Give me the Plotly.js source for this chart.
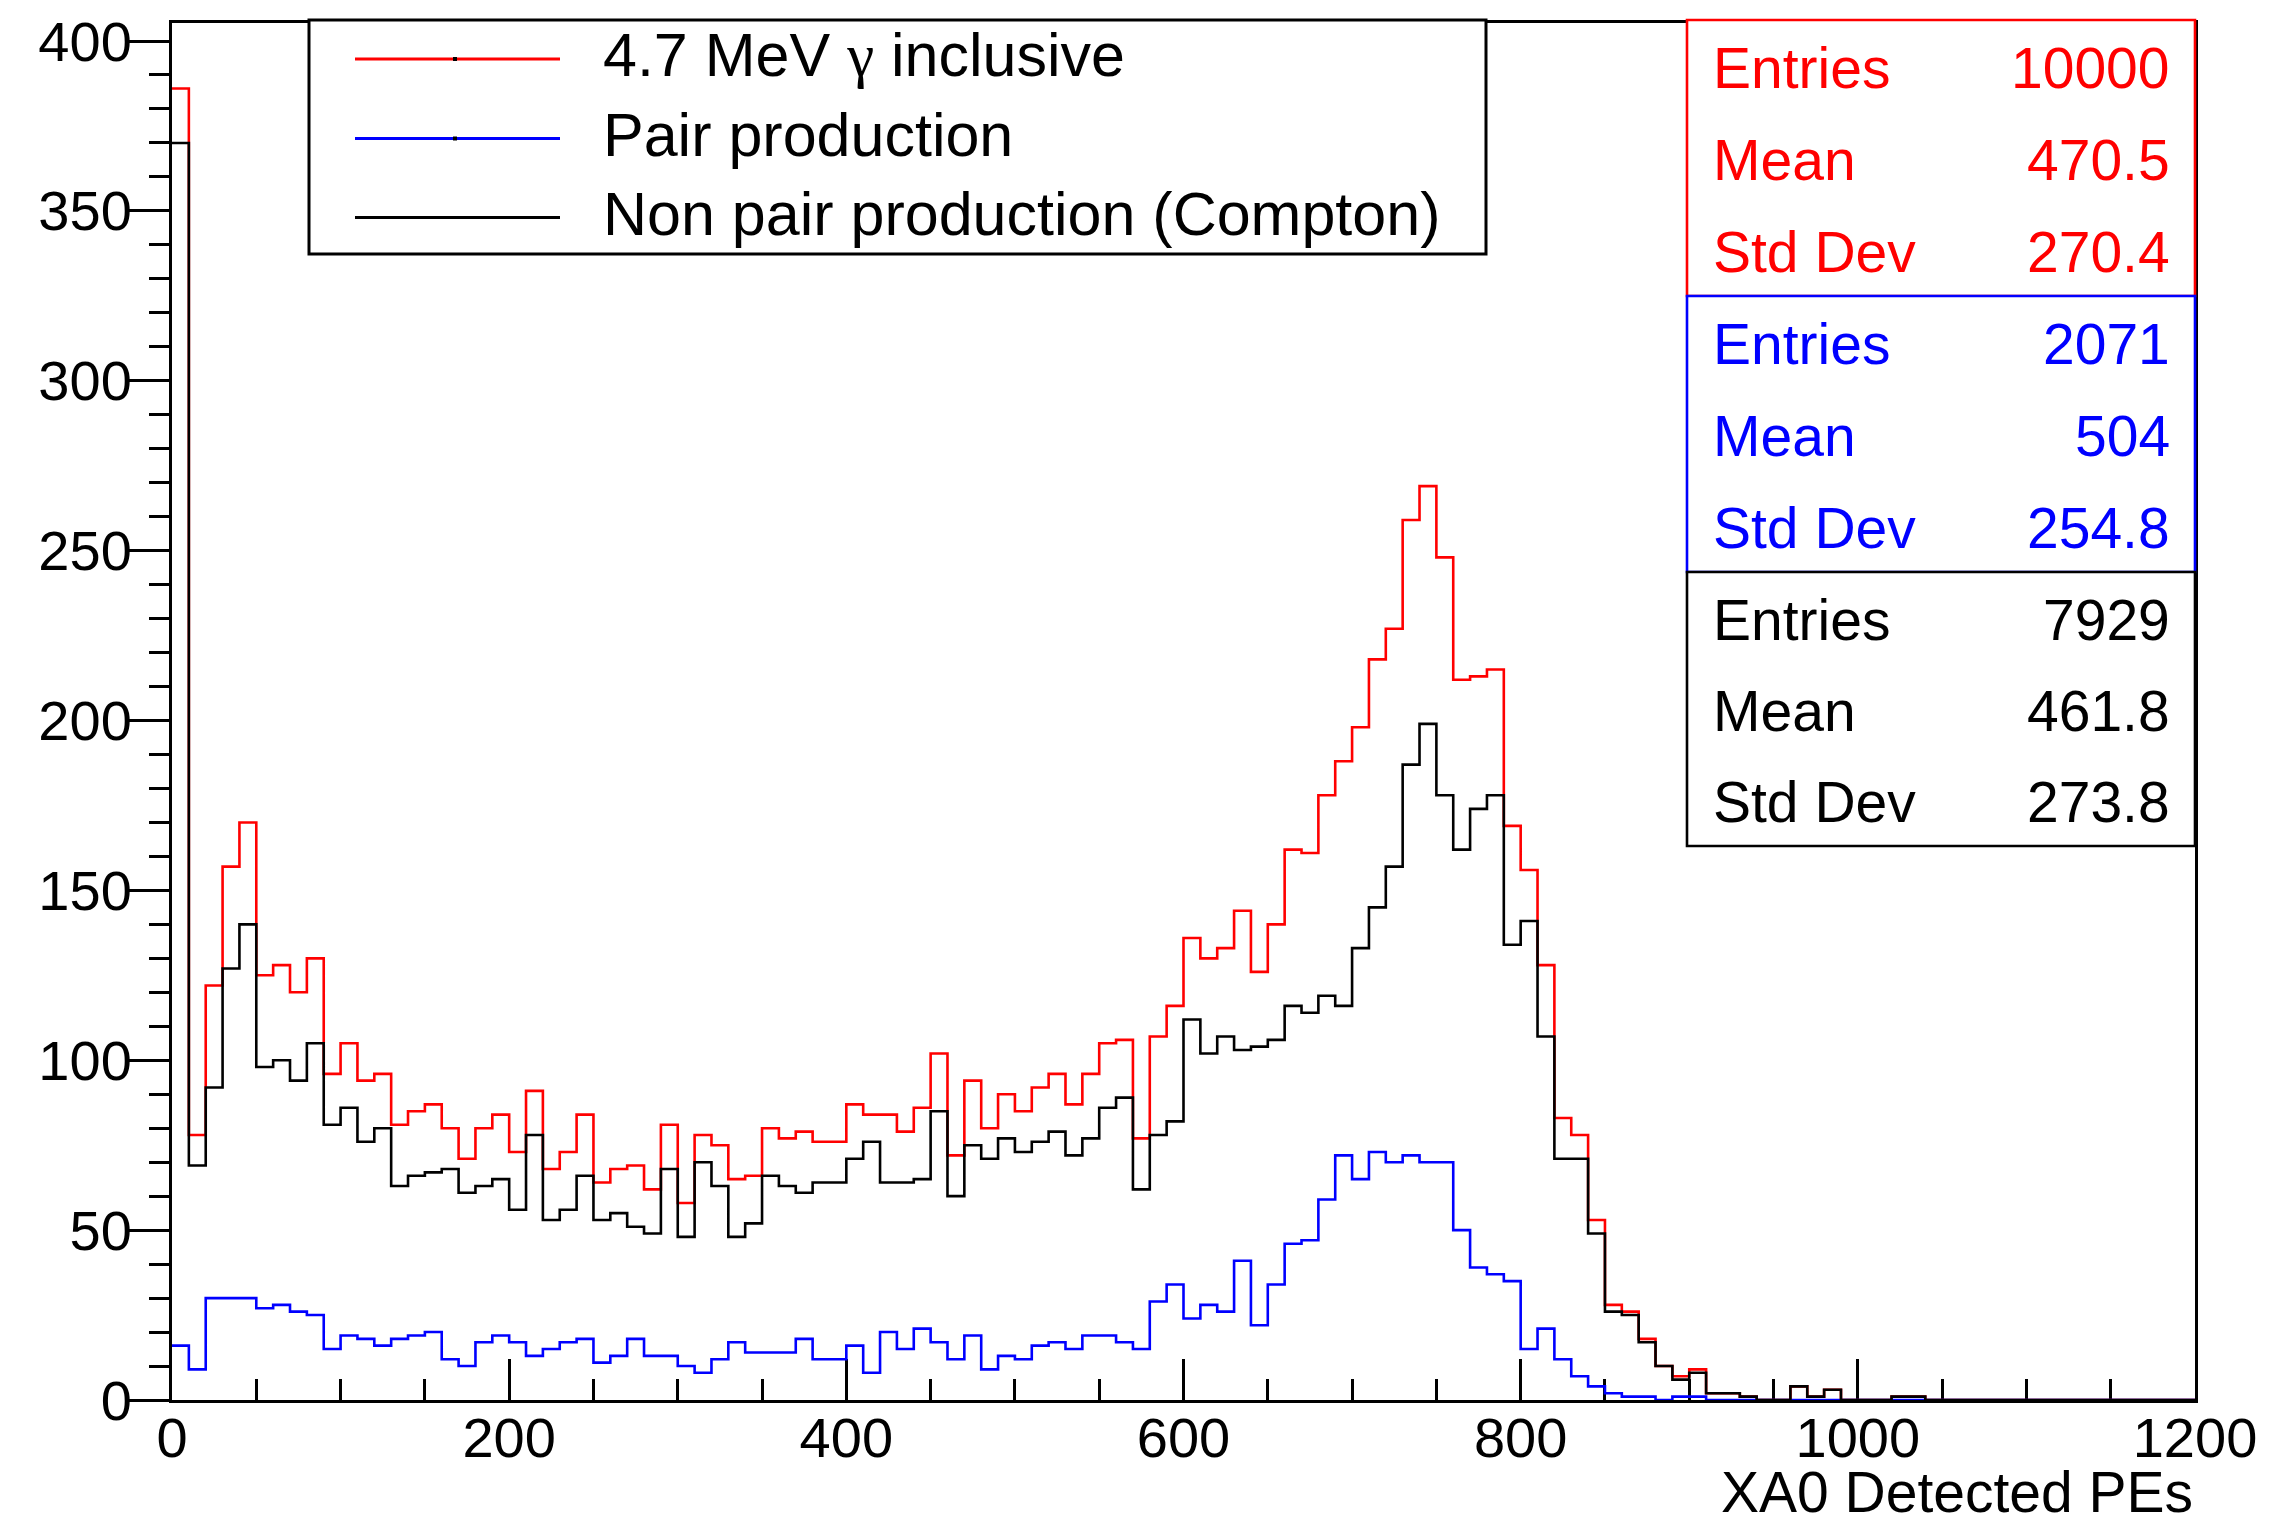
<!DOCTYPE html>
<html>
<head>
<meta charset="utf-8">
<script src="https://cdn.plot.ly/plotly-3.0.1.min.js"></script>
<style>
  html, body { margin: 0; padding: 0; background: #ffffff; }
  #plot { width: 2269px; height: 1521px; }
</style>
</head>
<body>
<div id="plot"></div>
<script>
// Histogram binning: 120 bins of width 10 PE from 0 to 1200
const binLow = 0;
const binWidth = 10;
const nBins = 120;

// Bin contents: all 4.7 MeV gamma events
const inclusiveCounts = [
  386, 78, 122, 157, 170, 125, 128, 120, 130, 96,
  105, 94, 96, 81, 85, 87, 80, 71, 80, 84,
  73, 91, 68, 73, 84, 64, 68, 69, 62, 81,
  58, 78, 75, 65, 66, 80, 77, 79, 76, 76,
  87, 84, 84, 79, 86, 102, 72, 94, 80, 90,
  85, 92, 96, 87, 96, 105, 106, 77, 107, 116,
  136, 130, 133, 144, 126, 140, 162, 161, 178, 188,
  198, 218, 227, 259, 269, 248, 212, 213, 215, 169,
  156, 128, 83, 78, 53, 28, 26, 18, 10, 7,
  9, 2, 2, 1, 0, 0, 4, 1, 3, 0,
  0, 0, 1, 1, 0, 0, 0, 0, 0, 0,
  0, 0, 0, 0, 0, 0, 0, 0, 0, 0
];

// Bin contents: pair production events
const pairCounts = [
  16, 9, 30, 30, 30, 27, 28, 26, 25, 15,
  19, 18, 16, 18, 19, 20, 12, 10, 17, 19,
  17, 13, 15, 17, 18, 11, 13, 18, 13, 13,
  10, 8, 12, 17, 14, 14, 14, 18, 12, 12,
  16, 8, 20, 15, 21, 17, 12, 19, 9, 13,
  12, 16, 17, 15, 19, 19, 17, 15, 29, 34,
  24, 28, 26, 41, 22, 34, 46, 47, 59, 72,
  65, 73, 70, 72, 70, 70, 50, 39, 37, 35,
  15, 21, 12, 7, 4, 2, 1, 1, 0, 1,
  1, 0, 0, 0, 0, 0, 0, 0, 0, 0,
  0, 0, 0, 0, 0, 0, 0, 0, 0, 0,
  0, 0, 0, 0, 0, 0, 0, 0, 0, 0
];

// Bin contents: non pair production (Compton) events
const comptonCounts = [
  370, 69, 92, 127, 140, 98, 100, 94, 105, 81,
  86, 76, 80, 63, 66, 67, 68, 61, 63, 65,
  56, 78, 53, 56, 66, 53, 55, 51, 49, 68,
  48, 70, 63, 48, 52, 66, 63, 61, 64, 64,
  71, 76, 64, 64, 65, 85, 60, 75, 71, 77,
  73, 76, 79, 72, 77, 86, 89, 62, 78, 82,
  112, 102, 107, 103, 104, 106, 116, 114, 119, 116,
  133, 145, 157, 187, 199, 178, 162, 174, 178, 134,
  141, 107, 71, 71, 49, 26, 25, 17, 10, 6,
  8, 2, 2, 1, 0, 0, 4, 1, 3, 0,
  0, 0, 1, 1, 0, 0, 0, 0, 0, 0,
  0, 0, 0, 0, 0, 0, 0, 0, 0, 0
];

// Legend entries and colours (gamma set in a serif face, like the Symbol glyph)
const seriesNames = [
  "4.7 MeV <span style=\"font-family:'Liberation Serif','DejaVu Serif',serif\">\u03b3</span> inclusive",
  "Pair production",
  "Non pair production (Compton)"
];
const seriesColors = ["#ff0000", "#0000ff", "#000000"];

// Statistics boxes
const statLabels = ["Entries", "Mean", "Std Dev"];
const statInclusive = ["10000", "470.5", "270.4"];
const statPair = ["2071", "504", "254.8"];
const statCompton = ["7929", "461.8", "273.8"];

const xTitle = "XA0 Detected PEs";

// ---------------------------------------------------------------
const FONT = "Liberation Sans, Arial, Helvetica, sans-serif";

// plot-area geometry in page pixels (used for the legend / stats boxes)
const W = 2269, H = 1521;
const L = 172, R = 2195, T = 23, B = 1400;
const px = x => (x - L) / (R - L);
const py = y => (B - y) / (B - T);

// step-histogram trace: bin low edges + closing edge, "hv" steps
function histTrace(counts, name, color) {
  const edges = [];
  const ys = [];
  for (let i = 0; i <= nBins; i++) {
    edges.push(binLow + i * binWidth);
    ys.push(counts[Math.min(i, nBins - 1)]);
  }
  return {
    type: "scatter",
    mode: "lines",
    x: edges,
    y: ys,
    name: name,
    line: { shape: "hv", color: color, width: 2.6 },
    hoverinfo: "skip",
    showlegend: false
  };
}

const traces = [
  histTrace(inclusiveCounts, "inclusive", seriesColors[0]),
  histTrace(pairCounts, "pair", seriesColors[1]),
  histTrace(comptonCounts, "compton", seriesColors[2])
];

const shapes = [];
const annotations = [];

// legend box
const legBox = { x0: 309, y0: 20, x1: 1486, y1: 254 };
shapes.push({
  type: "rect", xref: "paper", yref: "paper", layer: "above",
  x0: px(legBox.x0), x1: px(legBox.x1), y0: py(legBox.y1), y1: py(legBox.y0),
  line: { color: "#000000", width: 3 }, fillcolor: "#ffffff"
});
const legRowY = [59, 138.5, 217.5];
seriesNames.forEach((name, i) => {
  shapes.push({
    type: "line", xref: "paper", yref: "paper", layer: "above",
    x0: px(355), x1: px(560), y0: py(legRowY[i]), y1: py(legRowY[i]),
    line: { color: seriesColors[i], width: 2.8 }
  });
  if (i < 2) {
    shapes.push({
      type: "rect", xref: "paper", yref: "paper", layer: "above",
      x0: px(453), x1: px(457), y0: py(legRowY[i] + 2), y1: py(legRowY[i] - 2),
      line: { width: 0 }, fillcolor: "#000000"
    });
  }
  annotations.push({
    xref: "paper", yref: "paper", x: px(601), y: py(legRowY[i] - 4),
    xanchor: "left", yanchor: "middle", showarrow: false,
    text: name, font: { family: FONT, size: 61, color: "#000000" }
  });
});

// statistics boxes
const statBoxes = [
  { vals: statInclusive, color: seriesColors[0], y0: 20, y1: 296 },
  { vals: statPair, color: seriesColors[1], y0: 296, y1: 572 },
  { vals: statCompton, color: seriesColors[2], y0: 572, y1: 846 }
];
statBoxes.forEach(box => {
  shapes.push({
    type: "rect", xref: "paper", yref: "paper", layer: "above",
    x0: px(1687), x1: px(2195), y0: py(box.y1), y1: py(box.y0),
    line: { color: box.color, width: 2.6 }, fillcolor: "#ffffff"
  });
  const h = box.y1 - box.y0;
  statLabels.forEach((lab, j) => {
    const yc = box.y0 + h * (2 * j + 1) / 6 + 2;
    annotations.push({
      xref: "paper", yref: "paper", x: px(1711), y: py(yc),
      xanchor: "left", yanchor: "middle", showarrow: false,
      text: lab, font: { family: FONT, size: 57, color: box.color }
    });
    annotations.push({
      xref: "paper", yref: "paper", x: px(2172), y: py(yc),
      xanchor: "right", yanchor: "middle", showarrow: false,
      text: box.vals[j], font: { family: FONT, size: 57, color: box.color }
    });
  });
});

// x-axis title, right-aligned at the end of the axis
annotations.push({
  xref: "paper", yref: "paper", x: 1, y: py(1492),
  xanchor: "right", yanchor: "middle", showarrow: false,
  text: xTitle, font: { family: FONT, size: 57, color: "#000000" }
});

const layout = {
  width: W, height: H,
  margin: { l: L, r: W - R, t: T, b: H - B, pad: 0 },
  paper_bgcolor: "#ffffff",
  plot_bgcolor: "#ffffff",
  showlegend: false,
  font: { family: FONT, color: "#000000" },
  xaxis: {
    range: [0, 1200],
    tick0: 0, dtick: 200,
    ticks: "inside", ticklen: 41, tickwidth: 3, tickcolor: "#000000",
    minor: { dtick: 50, ticks: "inside", ticklen: 21, tickwidth: 3, tickcolor: "#000000", showgrid: false },
    showline: true, linewidth: 3, linecolor: "#000000", mirror: true,
    showgrid: false, zeroline: false,
    tickfont: { family: FONT, size: 56, color: "#000000" },
    ticklabelstandoff: -13,
    layer: "below traces"
  },
  yaxis: {
    range: [0, 405.3],
    tick0: 0, dtick: 50,
    ticks: "outside", ticklen: 40, tickwidth: 3, tickcolor: "#000000",
    minor: { dtick: 10, ticks: "outside", ticklen: 20, tickwidth: 3, tickcolor: "#000000", showgrid: false },
    showline: true, linewidth: 3, linecolor: "#000000", mirror: true,
    showgrid: false, zeroline: false,
    tickfont: { family: FONT, size: 56, color: "#000000" },
    ticklabelstandoff: -14,
    layer: "below traces"
  },
  shapes: shapes,
  annotations: annotations
};

Plotly.newPlot("plot", traces, layout, { staticPlot: true, displayModeBar: false });
</script>
</body>
</html>
